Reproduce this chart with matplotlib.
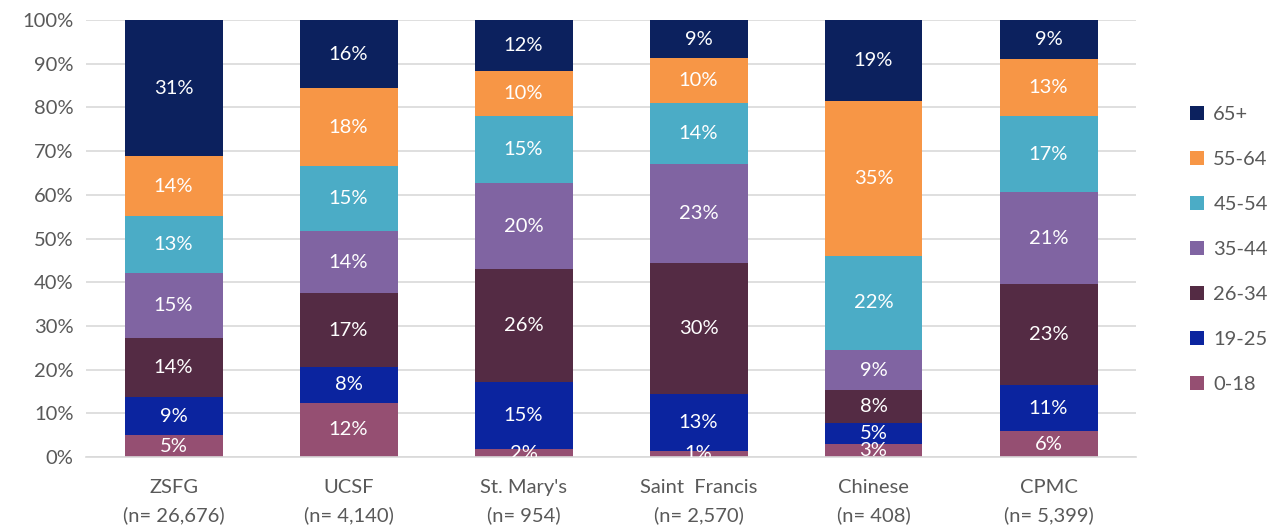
import matplotlib
matplotlib.use("Agg")
import matplotlib.pyplot as plt
import numpy as np

categories = ["ZSFG\n(n= 26,676)", "UCSF\n(n= 4,140)", "St. Mary's\n(n= 954)",
              "Saint  Francis\n(n= 2,570)", "Chinese\n(n= 408)", "CPMC\n(n= 5,399)"]
age_groups = ["0-18", "19-25", "26-34", "35-44", "45-54", "55-64", "65+"]
colors = ["#954F72", "#0B249F", "#542B44", "#8064A2", "#4BACC6", "#F79646", "#0C215E"]

v_0_18  = [5.0, 12.4, 1.8, 1.4, 3.0, 5.9]
v_19_25 = [8.7, 8.2, 15.4, 13.0, 4.8, 10.6]
v_26_34 = [13.6, 16.9, 25.8, 30.0, 7.5, 23.1]
v_35_44 = [14.9, 14.2, 19.7, 22.6, 9.2, 21.0]
v_45_54 = [12.9, 14.9, 15.3, 14.0, 21.6, 17.4]
v_55_64 = [13.7, 17.8, 10.3, 10.3, 35.3, 13.1]
v_65p   = [31.2, 15.6, 11.7, 8.7, 18.6, 8.9]
series = [v_0_18, v_19_25, v_26_34, v_35_44, v_45_54, v_55_64, v_65p]

plt.rcParams['font.family'] = ['Lato', 'DejaVu Sans']
fig = plt.figure(figsize=(12.73, 5.31), dpi=100)
ax = fig.add_axes([86/1273, 1 - 457/531, 1050/1273, 437/531])

x = np.arange(len(categories))
bottom = np.zeros(len(categories))
handles = []
for name, vals, col in zip(age_groups, series, colors):
    vals = np.array(vals)
    b = ax.bar(x, vals, width=0.56, bottom=bottom, color=col, label=name, zorder=2)
    handles.append(b)
    for xi, v, bt in zip(x, vals, bottom):
        ax.text(xi, bt + v / 2, f"{round(v)}%", ha="center", va="center",
                color="white", fontsize=14.5, clip_on=True, zorder=3)
    bottom += vals

ax.set_xlim(-0.5, len(categories) - 0.5)
ax.set_ylim(0, 100)
ax.set_yticks(np.arange(0, 101, 10))
ax.set_yticklabels([f"{t}%" for t in range(0, 101, 10)])
ax.set_xticks(x)
ax.set_xticklabels(categories)
ax.yaxis.grid(True, color="#D9D9D9", linewidth=1.2, zorder=0)
ax.set_axisbelow(True)
for s in ["top", "right", "left"]:
    ax.spines[s].set_visible(False)
ax.spines["bottom"].set_color("#D9D9D9")
ax.spines["bottom"].set_linewidth(1.2)
ax.tick_params(axis="both", length=0, labelsize=14.5, colors="#595959")
ax.tick_params(axis="x", pad=16)
ax.tick_params(axis="y", pad=9)
for lab in ax.get_xticklabels():
    lab.set_linespacing(1.65)

leg = fig.legend(handles[::-1], age_groups[::-1], loc="center left",
                 bbox_to_anchor=(1172/1273, 0.53), frameon=False,
                 fontsize=14.5, labelcolor="#595959", handlelength=0.7,
                 handleheight=0.7, handletextpad=0.45, labelspacing=1.38)

fig.savefig("out.png", dpi=100)
